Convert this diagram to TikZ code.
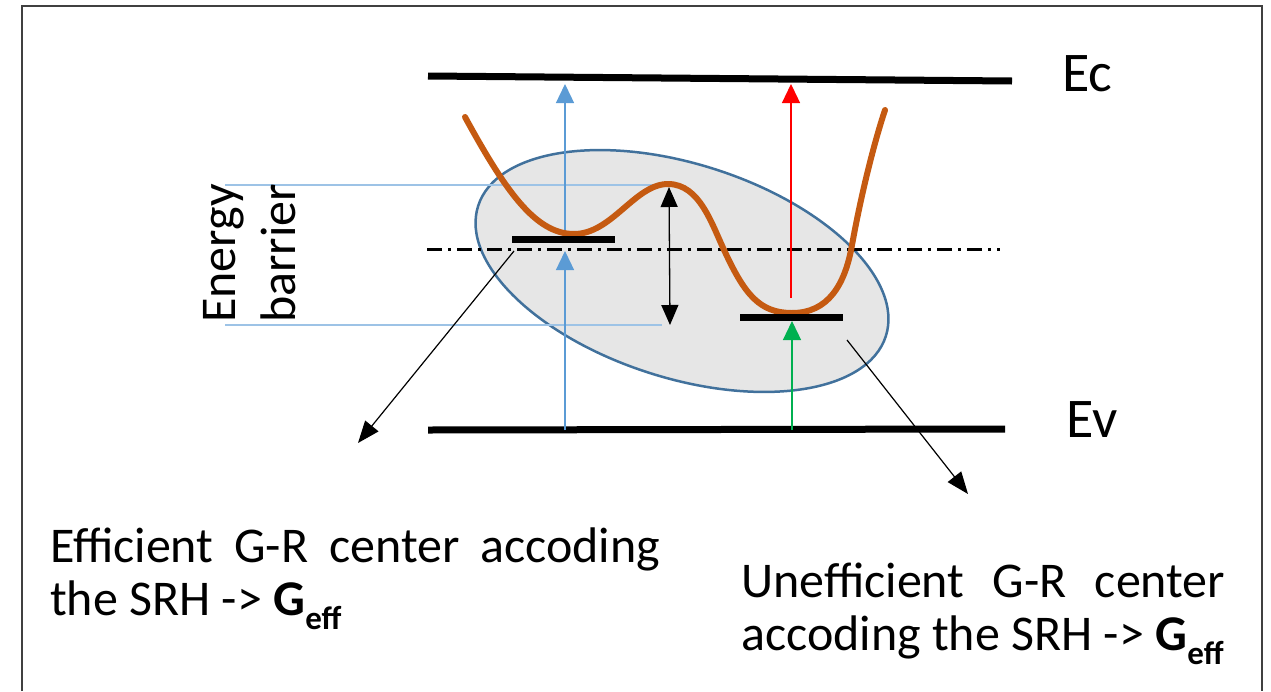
\documentclass[tikz,border=0pt]{standalone}
\usepackage{fontspec}
\setmainfont{Carlito}
\usetikzlibrary{arrows.meta}
\definecolor{framegray}{HTML}{404040}
\definecolor{ellfill}{HTML}{E6E6E6}
\definecolor{elldraw}{HTML}{41719C}
\definecolor{orangec}{HTML}{C55A11}
\definecolor{bluearr}{HTML}{5B9BD5}
\definecolor{bluelight}{HTML}{9DC3E6}
\definecolor{greenarr}{HTML}{00B050}
\newcommand{\Geff}{\textbf{G}\raisebox{-0.28em}{\fontsize{33}{33}\selectfont\bfseries eff}}
\tikzset{
  band/.style={line width=7pt, black},
  levelbar/.style={line width=7pt, black},
  colarrow/.style={line width=1.3pt, -{Triangle[length=19pt,width=18pt]}},
  pointer/.style={line width=1.2pt, black, -{Triangle[length=22pt,width=17pt]}},
  guide/.style={line width=1.5pt, bluelight},
  bigtxt/.style={inner sep=0pt, font=\fontsize{50}{60}\selectfont},
  bandtxt/.style={inner sep=0pt, font=\fontsize{56}{66}\selectfont},
}
\begin{document}
\begin{tikzpicture}[x=1pt,y=-1pt]
\useasboundingbox (0,0) rectangle (1271,691);
% frame
\draw[framegray, line width=2.5pt] (22,691) -- (22,6) -- (1262,6) -- (1262,691);
% ellipse
\filldraw[fill=ellfill, draw=elldraw, line width=2.5pt, rotate around={-17.7:(682,271)}] (682,271) ellipse [x radius=214, y radius=107];
% guide lines for barrier
\coordinate (g1a) at (225,185); \coordinate (g1b) at (662,185);
\coordinate (g2a) at (225,325); \coordinate (g2b) at (662,325);
\draw[guide] (g1a) -- (g1b);
\draw[guide] (g2a) -- (g2b);
% bands
\coordinate (ec1) at (428,76); \coordinate (ec2) at (1012,81);
\coordinate (ev1) at (428,430); \coordinate (ev2) at (1005,429);
\draw[band] (ec1) -- (ec2);
\draw[band] (ev1) -- (ev2);
\node[bandtxt, anchor=base west] (Ec) at (1062,91) {Ec};
\node[bandtxt, anchor=base west] (Ev) at (1066,437) {Ev};
% midgap dash-dot
\coordinate (m1) at (427,249); \coordinate (m2) at (1000,249);
\draw[line width=3pt, dash pattern=on 15pt off 6pt on 3pt off 6pt] (m1) -- (m2);
% blue arrows
\coordinate (b0) at (565,430); \coordinate (b1) at (565,251);
\coordinate (b2) at (565,236); \coordinate (b3) at (565,84);
\draw[colarrow, bluearr] (b0) -- (b1);
\draw[colarrow, bluearr] (b2) -- (b3);
% red and green
\coordinate (r0) at (791,298); \coordinate (r1) at (791,84);
\draw[colarrow, red] (r0) -- (r1);
\coordinate (gr0) at (792,430); \coordinate (gr1) at (792,321);
\draw[colarrow, greenarr] (gr0) -- (gr1);
% barrier double arrow
\coordinate (d1) at (669,187); \coordinate (d2) at (670,325);
\draw[line width=1.3pt, {Triangle[length=20pt,width=17pt]}-{Triangle[length=20pt,width=17pt]}] (d1) -- (d2);
% orange configuration curve
\draw[orangec, line width=6pt, line cap=round]
  (465,117) .. controls (505,190) and (535,234) .. (574,234)
  .. controls (612,234) and (635,184) .. (668,184)
  .. controls (700,184) and (712,225) .. (725,252)
  .. controls (745,295) and (760,313) .. (792,313)
  .. controls (828,313) and (845,285) .. (852,245)
  .. controls (862,190) and (875,140) .. (885,110);
% levels
\coordinate (l1a) at (512,239); \coordinate (l1b) at (615,239);
\coordinate (l2a) at (740,317); \coordinate (l2b) at (843,317);
\draw[levelbar] (l1a) -- (l1b);
\draw[levelbar] (l2a) -- (l2b);
% pointers
\coordinate (p1s) at (514,251); \coordinate (p1e) at (358,443);
\coordinate (p2s) at (847,340); \coordinate (p2e) at (968,494);
\draw[pointer] (p1s) -- (p1e);
\draw[pointer] (p2s) -- (p2e);
% energy barrier label
\node[bigtxt, rotate=90, anchor=base west] (eb1) at (235,323) {Energy};
\node[bigtxt, rotate=90, anchor=base west] (eb2) at (295,323) {barrier};
% bottom texts
\node[bigtxt, anchor=base west] (t1) at (50,562) {\makebox[610pt][s]{Efficient G-R center accoding}};
\node[bigtxt, anchor=base west] (t2) at (50,615) {the SRH -> \Geff};
\node[bigtxt, anchor=base west] (t3) at (741,597) {\makebox[484pt][s]{Unefficient G-R center}};
\node[bigtxt, anchor=base west] (t4) at (741,650) {accoding the SRH -> \Geff};
\end{tikzpicture}
\end{document}
